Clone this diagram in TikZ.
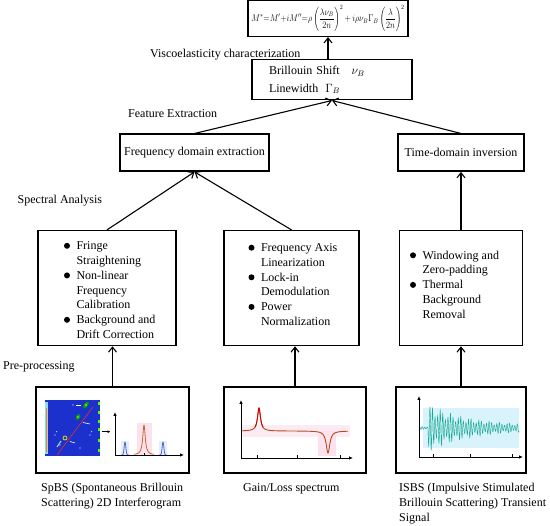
\documentclass[tikz,border=0pt]{standalone}
\usepackage{fontspec}
\setmainfont{Liberation Serif}
\usetikzlibrary{positioning,arrows.meta}

\definecolor{intblue}{RGB}{28,48,205}
\definecolor{peakbrown}{RGB}{200,105,35}
\definecolor{peakblue}{RGB}{70,110,210}
\definecolor{gaincol}{RGB}{185,75,30}
\definecolor{sigcol}{RGB}{25,170,150}
\definecolor{lightpink}{RGB}{252,226,238}

\newcommand{\bmark}{\raisebox{0.8pt}{\tikz\fill (0,0) circle (3pt);}}
\newenvironment{blist}[1]{\begin{list}{\bmark}{%
  \setlength{\leftmargin}{#1}\setlength{\rightmargin}{0pt}%
  \setlength{\labelwidth}{6pt}\setlength{\labelsep}{6.5pt}%
  \setlength{\itemsep}{0pt}\setlength{\parsep}{0pt}%
  \setlength{\topsep}{0pt}\setlength{\partopsep}{0pt}}}{\end{list}}

\begin{document}
\begin{tikzpicture}[
  x=1pt,y=1pt,
  font=\fontsize{12}{14.8}\selectfont,
  box/.style={draw,line width=1.4pt,inner sep=0pt},
  procbox/.style={box,minimum height=37pt,align=center},
  imgbox/.style={box,minimum height=86pt},
  lab/.style={anchor=base west,inner sep=0pt,align=left,font=\fontsize{12}{15}\selectfont},
  arr/.style={-{Straight Barb[length=5pt,width=8pt]},line width=1.1pt},
  axis/.style={-{Latex[length=4pt,width=3.5pt]},line width=0.8pt}]
\useasboundingbox (0,0) rectangle (550,526);

% source data
\node[imgbox,minimum width=153pt] (img1) at (112.5,96) {};
\node[imgbox,minimum width=142pt] (img2) at (295,96) {};
\node[imgbox,minimum width=130pt] (img3) at (461,96) {};

% pre-processing steps
\node[box,minimum height=115pt,above=40pt of img1,xshift=-5.5pt] (pre1) {%
  \begin{minipage}{138pt}\vspace*{4pt}\begin{blist}{38.5pt}
  \item Fringe\\Straightening
  \item Non-linear\\Frequency\\Calibration
  \item Background and\\Drift Correction
  \end{blist}\end{minipage}};
\node[box,minimum height=115pt,above=40pt of img2,xshift=-3.5pt] (pre2) {%
  \begin{minipage}{135pt}\begin{blist}{37pt}
  \item Frequency Axis\\Linearization
  \item Lock-in\\Demodulation
  \item Power\\Normalization
  \end{blist}\vspace*{7pt}\end{minipage}};
\node[box,minimum height=115pt,above=40pt of img3] (pre3) {%
  \begin{minipage}{123pt}\begin{blist}{23pt}
  \item Windowing and\\Zero-padding
  \item Thermal\\Background\\Removal
  \end{blist}\vspace*{7pt}\end{minipage}};

% spectral analysis
\node[procbox,minimum width=149pt,above=58pt of pre1,xshift=87.5pt] (freq) {Frequency domain extraction};
\node[procbox,minimum width=126pt,above=58pt of pre3] (time) {Time-domain inversion};

% features and moduli
\node[box,minimum height=40pt,text width=126pt,inner xsep=17pt,align=left,
  above=33pt of freq,xshift=137.5pt] (brill)
  {Brillouin Shift\hspace{12pt}$\nu_B$\\[3pt]Linewidth\hspace{7pt}$\Gamma_B$};
\node[box,minimum width=160pt,minimum height=36pt,above=22pt of brill,xshift=-4pt] (modul)
  {\resizebox*{153pt}{26pt}{$\displaystyle M^{*}{=}M'{+}iM''{=}\rho\left(\frac{\lambda\nu_B}{2n}\right)^{2}{+}\,i\rho\nu_B\Gamma_B\left(\frac{\lambda}{2n}\right)^{2}$}};

% stage labels
\node[lab] (lvisco) at (150,468) {Viscoelasticity characterization};
\node[lab] (lfeat) at (128,408) {Feature Extraction};
\node[lab] (lspec) at (17.5,322) {Spectral Analysis};
\node[lab] (lpre) at (3,156) {Pre-processing};

% captions
\node[lab] (cap1) at (41,19) {SpBS (Spontaneous Brillouin\\Scattering) 2D Interferogram};
\node[lab] (cap2) at (243,34) {Gain/Loss spectrum};
\node[lab] (cap3) at (399,4) {ISBS (Impulsive Stimulated\\Brillouin Scattering) Transient\\Signal};

% connectors
\draw[arr] (img1.north) -- (img1.north |- pre1.south);
\draw[arr] (img2.north) -- (img2.north |- pre2.south);
\draw[arr] (img3.north) -- (img3.north |- pre3.south);
\draw[arr] (pre1.north) -- (freq.south);
\draw[arr] (pre2.north) -- (freq.south);
\draw[arr] (pre3.north) -- (time.south);
\draw[arr] (freq.north) -- (brill.south);
\draw[arr] (time.north) -- (brill.south);
\draw[arr] (modul.south |- brill.north) -- (modul.south);

% interferogram
\fill[intblue] (45,70) rectangle (100,126);
\fill[cyan!45] (45,72) rectangle (47.5,124);
\draw[orange,line width=1pt] (46,74) -- (46,118);
\foreach \yy in {74,84,95,103,112,121}
  \fill[green!70!yellow] (98.3,\yy) rectangle (100,\yy+2.5);
\draw[red!60!brown,line width=0.6pt] (57,71) -- (93,119);
\fill[green!65!black,rotate around={-35:(86,121)}] (86,121) ellipse (2 and 4);
\fill[yellow!80!green] (86,121) circle (1);
\fill[green!65!black,rotate around={-35:(78,109)}] (78,109) ellipse (2 and 3);
\fill[yellow!80!green] (78,109) circle (0.9);
\draw[yellow!80!green,line width=0.8pt] (65,88) circle (2);
\draw[cyan!40,line width=1pt] (57,79) -- (61,85);
\foreach \a/\b/\c/\d in {83/103.5/90/102,70/84.5/75/83,76/121/81/121}
  \draw[white,line width=0.6pt] (\a,\b) -- (\c,\d);
\foreach \p in {(91.7,94.3),(90,91),(80,78),(56.7,94.3),(55,91),(60,81),(73,121)}
  \fill[white] \p circle (0.6);
\draw[-{Latex[length=3pt,width=3pt]},line width=0.8pt] (101.5,94.3) -- (110.5,94.3);
\fill[lightpink] (137,71) rectangle (152,103);
\fill[blue!8] (121,71) rectangle (129,85);
\fill[blue!8] (159,71) rectangle (167,85);
\draw[peakbrown,line width=0.8pt] plot[domain=134:154,samples=120] (\x,{71+30/(1+((\x-144)/1.5)^2)});
\foreach \c in {125,163}
  \draw[peakblue,line width=0.8pt] plot[domain=\c-4:\c+4,samples=60] (\x,{71+13*exp(-((\x-\c)/1.2)^2)});
\draw[axis] (115,71) -- (115,114);
\draw[axis] (115,71) -- (184,71);
\draw[line width=0.6pt] (144,71) -- (144,73);

% gain/loss spectrum
\fill[lightpink!70] (241,89) rectangle (350,101);
\fill[lightpink] (318,70) rectangle (336,95);
\draw[gaincol,line width=0.9pt] plot[domain=241:348,samples=400] (\x,{95+23/(1+((\x-259)/1.8)^2)-22/(1+((\x-328)/2.2)^2)});
\draw[red!80!black,line width=0.9pt] plot[domain=255:263,samples=80] (\x,{95+23/(1+((\x-259)/1.8)^2)});
\draw[axis] (241,68) -- (241,126);
\draw[axis] (241,68) -- (353,68);
\foreach \t in {257,297,340}
  \draw[line width=0.6pt] (\t,68) -- (\t,70.5);

% transient signal
\fill[cyan!15] (423,78) rectangle (519,118);
\draw[sigcol,line width=0.45pt] plot[domain=0:100,samples=600] (419+\x,{98+((\x<9) ? 1.5 : (21*exp(-(\x-11)/40)+2))*sin(140*\x)*(0.75+0.25*sin(37*\x))});
\draw[axis] (419,69) -- (419,130);
\draw[axis] (419,69) -- (523,69);
\foreach \t in {433,470,512}
  \draw[line width=0.6pt] (\t,69) -- (\t,71.5);
\end{tikzpicture}
\end{document}
